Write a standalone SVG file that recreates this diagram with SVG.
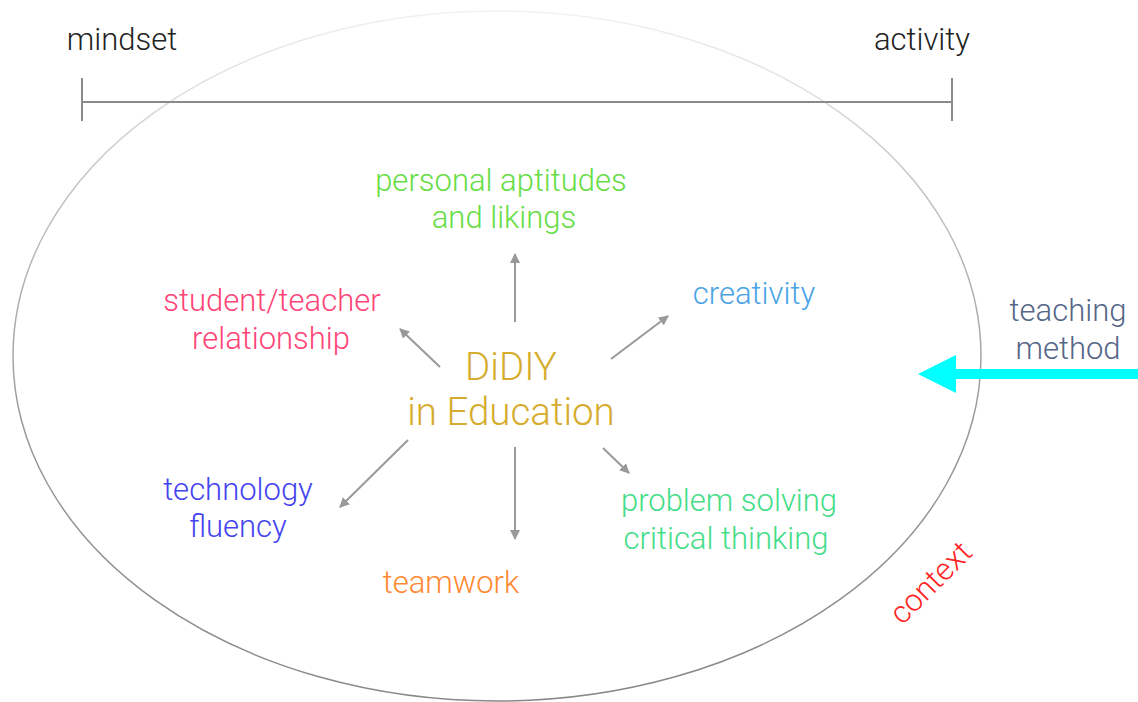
<svg xmlns="http://www.w3.org/2000/svg" width="1138" height="702" viewBox="0 0 1138 702">
  <style>
    text { font-family: "Roboto Light", Roboto, "Liberation Sans", sans-serif; font-weight: 300; text-anchor: middle; }
    .lbl { font-size: 31px; }
    .big { font-size: 38.5px; }
    .scale { stroke: #8a8a8a; stroke-width: 2; fill: none; }
    .link { stroke: #999999; stroke-width: 2; fill: none; marker-end: url(#head); }
  </style>
  <defs>
    <linearGradient id="rim" x1="0" y1="0" x2="0" y2="1">
      <stop offset="0" stop-color="#f2f2f2"/>
      <stop offset="0.25" stop-color="#c4c4c4"/>
      <stop offset="0.6" stop-color="#999999"/>
      <stop offset="1" stop-color="#888888"/>
    </linearGradient>
    <marker id="head" viewBox="0 0 10 10" refX="9" refY="5" markerWidth="5" markerHeight="5" orient="auto">
      <path d="M0,0 L10,5 L0,10 Z" fill="#999999"/>
    </marker>
  </defs>

  <!-- context boundary -->
  <ellipse cx="497" cy="356" rx="484" ry="345" fill="none" stroke="url(#rim)" stroke-width="1.5"/>

  <!-- mindset / activity scale -->
  <g id="scale">
    <line class="scale" x1="82" y1="102" x2="952" y2="102"/>
    <line class="scale" x1="82" y1="78" x2="82" y2="121"/>
    <line class="scale" x1="952" y1="78" x2="952" y2="121"/>
    <text class="lbl" x="122" y="50" fill="#222222">mindset</text>
    <text class="lbl" x="922" y="50" fill="#222222">activity</text>
  </g>

  <g id="connectors">
    <line class="link" x1="515" y1="322" x2="515" y2="254"/>
    <line class="link" x1="440" y1="367" x2="400" y2="329"/>
    <line class="link" x1="611" y1="359" x2="668" y2="316"/>
    <line class="link" x1="408" y1="440" x2="340" y2="507"/>
    <line class="link" x1="515" y1="447" x2="515" y2="539"/>
    <line class="link" x1="603" y1="448" x2="629" y2="473"/>
    <!-- teaching method input -->
    <line x1="1138" y1="374" x2="950" y2="374" stroke="#00ffff" stroke-width="10"/>
    <path d="M918,374 L956,355 L956,393 Z" fill="#00ffff"/>
  </g>

  <g id="center">
    <text class="big" x="511" y="380" fill="#d6ac2e">DiDIY</text>
    <text class="big" x="511" y="425" fill="#d6ac2e">in Education</text>
  </g>
  <g id="aptitudes">
    <text class="lbl" x="501" y="191" fill="#66dd44">personal aptitudes</text>
    <text class="lbl" x="504" y="228" fill="#66dd44">and likings</text>
  </g>
  <g id="creativity">
    <text class="lbl" x="754" y="304" fill="#4aa3e4">creativity</text>
  </g>
  <g id="relationship">
    <text class="lbl" x="272" y="311" fill="#ff4477">student/teacher</text>
    <text class="lbl" x="271" y="349" fill="#ff4477">relationship</text>
  </g>
  <g id="technology">
    <text class="lbl" x="238" y="500" fill="#4444ee">technology</text>
    <text class="lbl" x="238" y="537" fill="#4444ee">fluency</text>
  </g>
  <g id="teamwork">
    <text class="lbl" x="451" y="593" fill="#ff8833">teamwork</text>
  </g>
  <g id="problem">
    <text class="lbl" x="729" y="511" fill="#44dd88">problem solving</text>
    <text class="lbl" x="726" y="549" fill="#44dd88">critical thinking</text>
  </g>
  <g id="teaching">
    <text class="lbl" x="1068" y="321" fill="#556688">teaching</text>
    <text class="lbl" x="1068" y="359" fill="#556688">method</text>
  </g>
  <g id="context">
    <text class="lbl" x="0" y="0" fill="#ff2222" transform="translate(938,590) rotate(-45)">context</text>
  </g>
</svg>
